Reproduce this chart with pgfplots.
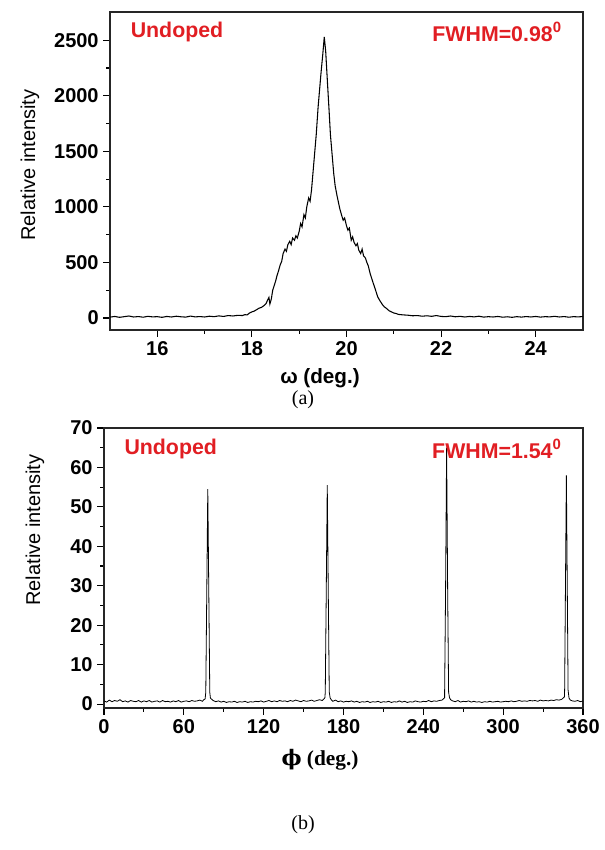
\documentclass[border=0pt]{standalone}
\usepackage{fontspec}
\setmainfont{Liberation Sans}
\newfontfamily\tnr{Liberation Serif}
\newfontfamily\djs{DejaVu Serif}
\usepackage{pgfplots}
\pgfplotsset{compat=1.18}
\definecolor{labred}{RGB}{225,30,35}

\pgfplotsset{
  xrdstyle/.style={
    scale only axis,
    anchor=south west,
    axis line style={black!85, line width=0.9pt},
    tick align=outside,
    xtick pos=left, ytick pos=left,
    major tick length=5pt, minor tick length=3pt,
    every tick/.style={black, line width=0.8pt},
    minor tick num=1,
    /pgf/number format/assume math mode=true,
    ticklabel style={font=\fontsize{15}{15}\selectfont\bfseries},
    /pgf/number format/1000 sep={},
  }
}

\begin{document}
\begin{tikzpicture}
% page frame: 605 x 850 px at 0.75pt per px
\useasboundingbox (0,0) rectangle (453.75pt,637.5pt);

% (a) omega scan
\begin{axis}[xrdstyle,
  at={(82.5pt,390pt)}, width=354.75pt, height=238.5pt,
  xmin=15, xmax=25, ymin=-108, ymax=2754,
  xtick={16,18,20,22,24},
  ytick={0,500,1000,1500,2000,2500},
]
\addplot[black, line width=0.8pt] coordinates {
(15.0,8)(15.1,14)(15.2,6)(15.3,12)(15.4,18)(15.5,9)(15.6,13)(15.7,7)(15.8,15)(15.9,10)
(16.0,12)(16.1,6)(16.2,14)(16.3,9)(16.4,16)(16.5,11)(16.6,8)(16.7,17)(16.8,10)(16.9,13)
(17.0,9)(17.1,16)(17.2,12)(17.3,19)(17.4,14)(17.5,22)(17.6,18)(17.7,24)(17.8,22)(17.85,30)
(17.9,28)(17.95,45)(18.0,55)(18.05,62)(18.1,75)(18.15,88)(18.2,95)(18.25,110)(18.3,130)
(18.33,160)(18.36,185)(18.38,125)(18.41,170)(18.44,250)(18.47,290)(18.5,330)(18.53,380)
(18.56,420)(18.6,480)(18.63,510)(18.66,580)(18.7,620)(18.73,600)(18.76,660)(18.8,690)
(18.83,660)(18.86,720)(18.9,700)(18.93,740)(18.96,720)(19.0,780)(19.03,850)(19.06,820)
(19.1,930)(19.13,900)(19.16,1000)(19.2,1080)(19.23,1050)(19.26,1150)(19.3,1350)(19.33,1500)
(19.36,1650)(19.4,1900)(19.43,2050)(19.46,2200)(19.5,2380)(19.53,2530)(19.56,2400)
(19.6,2100)(19.63,1880)(19.66,1650)(19.7,1450)(19.73,1300)(19.76,1190)(19.8,1100)
(19.83,1040)(19.86,980)(19.9,920)(19.93,880)(19.96,900)(20.0,830)(20.03,790)(20.06,810)
(20.1,700)(20.13,730)(20.16,680)(20.2,650)(20.23,670)(20.26,610)(20.3,580)(20.33,620)
(20.36,560)(20.4,540)(20.43,500)(20.46,470)(20.5,400)(20.53,360)(20.56,320)(20.6,270)
(20.63,230)(20.66,190)(20.7,160)(20.73,140)(20.76,120)(20.8,100)(20.85,85)(20.9,65)
(20.95,55)(21.0,45)(21.05,40)(21.1,32)(21.2,28)(21.3,25)(21.4,20)(21.5,22)(21.6,16)
(21.7,20)(21.8,15)(21.9,22)(22.0,14)(22.1,12)(22.2,18)(22.3,11)(22.4,15)(22.5,9)
(22.6,14)(22.7,10)(22.8,16)(22.9,8)(23.0,12)(23.1,9)(23.2,14)(23.3,7)(23.4,11)(23.5,6)
(23.6,12)(23.7,8)(23.8,13)(23.9,9)(24.0,14)(24.1,8)(24.2,12)(24.3,10)(24.4,15)(24.5,9)
(24.6,13)(24.7,7)(24.8,12)(24.9,10)(25.0,13)
};
\node[anchor=west, text=labred, font=\fontsize{16}{16}\selectfont\bfseries]
  at (rel axis cs:0.034,0.937) {Undoped};
\node[anchor=east, text=labred, font=\fontsize{16}{16}\selectfont\bfseries]
  at (rel axis cs:0.965,0.937) {FWHM=0.98\textsuperscript{0}};
\end{axis}

% (b) phi scan
\begin{axis}[xrdstyle,
  at={(78pt,106.5pt)}, width=359.25pt, height=210pt,
  xmin=0, xmax=360, ymin=-1, ymax=70,
  xtick={0,60,120,180,240,300,360},
  ytick={0,10,20,30,40,50,60,70},
]
\addplot[black, line width=0.6pt] coordinates {
(0,0.8)(2,0.5)(4,1.0)(6,0.6)(8,0.9)(10,0.7)(12,1.1)(14,0.6)(16,0.8)(18,0.5)
(20,0.9)(22,0.7)(24,0.6)(26,0.9)(28,0.5)(30,0.8)(32,0.6)(34,0.9)(36,0.5)(38,0.7)
(40,0.8)(42,0.5)(44,0.9)(46,0.6)(48,0.7)(50,0.5)(52,0.8)(54,0.6)(56,0.9)(58,0.5)
(60,0.7)(62,0.8)(64,0.6)(66,0.9)(68,0.7)(70,0.8)(72,1.0)(74,0.7)(75,1.1)(76,1.3)
(76.5,3.0)(77.2,27)(78,54.5)(78.8,27)(79.5,3.0)(80,1.5)(81,1.2)
(82,0.9)(84,0.6)(86,0.8)(88,0.5)(90,0.7)(92,0.4)(94,0.6)(96,0.5)(98,0.7)(100,0.4)
(102,0.6)(104,0.5)(106,0.7)(108,0.4)(110,0.6)(112,0.5)(114,0.7)(116,0.6)(118,0.8)
(120,0.5)(122,0.7)(124,0.9)(126,0.6)(128,0.8)(130,0.6)(132,0.9)(134,0.7)(136,0.8)
(138,0.6)(140,0.9)(142,0.7)(144,1.0)(146,0.8)(148,0.6)(150,0.9)(152,0.7)(154,0.8)
(156,1.0)(158,0.7)(160,0.9)(162,1.1)(164,0.9)(165,1.2)(166,1.6)
(166.3,3.0)(167.0,27)(167.8,55.5)(168.6,27)(169.3,3.0)(170,1.5)(171,1.0)
(172,0.7)(174,1.0)(176,0.6)(178,0.8)(180,0.5)(182,0.7)(184,0.6)(186,0.8)(188,0.5)
(190,0.7)(192,0.4)(194,0.6)(196,0.5)(198,0.7)(200,0.4)(202,0.6)(204,0.5)(206,0.7)
(208,0.4)(210,0.6)(212,0.5)(214,0.7)(216,0.4)(218,0.6)(220,0.5)(222,0.8)(224,0.5)
(226,0.7)(228,0.4)(230,0.6)(232,0.5)(234,0.8)(236,0.6)(238,0.5)(240,0.7)(242,0.6)
(244,0.9)(246,0.6)(248,0.8)(250,0.7)(252,0.9)(254,1.0)(255,1.3)(256,1.6)
(256.0,3.0)(256.7,28)(257.5,65)(258.3,28)(259,3.0)(259.7,1.6)(260.5,1.1)
(262,0.8)(264,0.6)(266,0.9)(268,0.5)(270,0.7)(272,0.6)(274,0.8)(276,0.5)(278,0.7)
(280,0.5)(282,0.6)(284,0.4)(286,0.6)(288,0.5)(290,0.7)(292,0.5)(294,0.6)(296,0.7)
(298,0.5)(300,0.6)(302,0.7)(304,0.6)(306,0.8)(308,0.6)(310,0.7)(312,0.9)(314,0.7)
(316,0.8)(318,0.7)(320,0.9)(322,0.8)(324,0.9)(326,0.7)(328,1.0)(330,0.8)(332,0.9)
(334,0.8)(336,1.0)(338,0.9)(340,1.1)(342,1.0)(344,1.2)(345,1.5)(346,1.8)
(346.2,3.5)(346.8,29)(347.5,58)(348.2,29)(348.8,3.5)(349.5,1.5)(350.5,1.0)
(352,0.8)(354,0.7)(356,0.9)(358,0.6)(360,0.8)
};
\node[anchor=west, text=labred, font=\fontsize{16}{16}\selectfont\bfseries]
  at (rel axis cs:0.033,0.925) {Undoped};
\node[anchor=east, text=labred, font=\fontsize{16}{16}\selectfont\bfseries]
  at (rel axis cs:0.965,0.925) {FWHM=1.54\textsuperscript{0}};
\end{axis}

% axis titles and captions
\node[rotate=90, font=\fontsize{15}{15}\selectfont] at (22.5pt,513.75pt) {Relative intensity};
\node[font=\fontsize{15.5}{15.5}\selectfont\bfseries] at (240pt,354pt) {ω (deg.)};
\node[font=\fontsize{15}{15}\selectfont\tnr] at (227.25pt,337.5pt) {(a)};

\node[rotate=90, font=\fontsize{15}{15}\selectfont] at (26.25pt,240pt) {Relative intensity};
\node[font=\fontsize{16}{16}\selectfont\tnr\bfseries] at (240pt,67.5pt) {{\djs ϕ}\ (deg.)};
\node[font=\fontsize{15}{15}\selectfont\tnr] at (227.25pt,18.75pt) {(b)};
\end{tikzpicture}
\end{document}
